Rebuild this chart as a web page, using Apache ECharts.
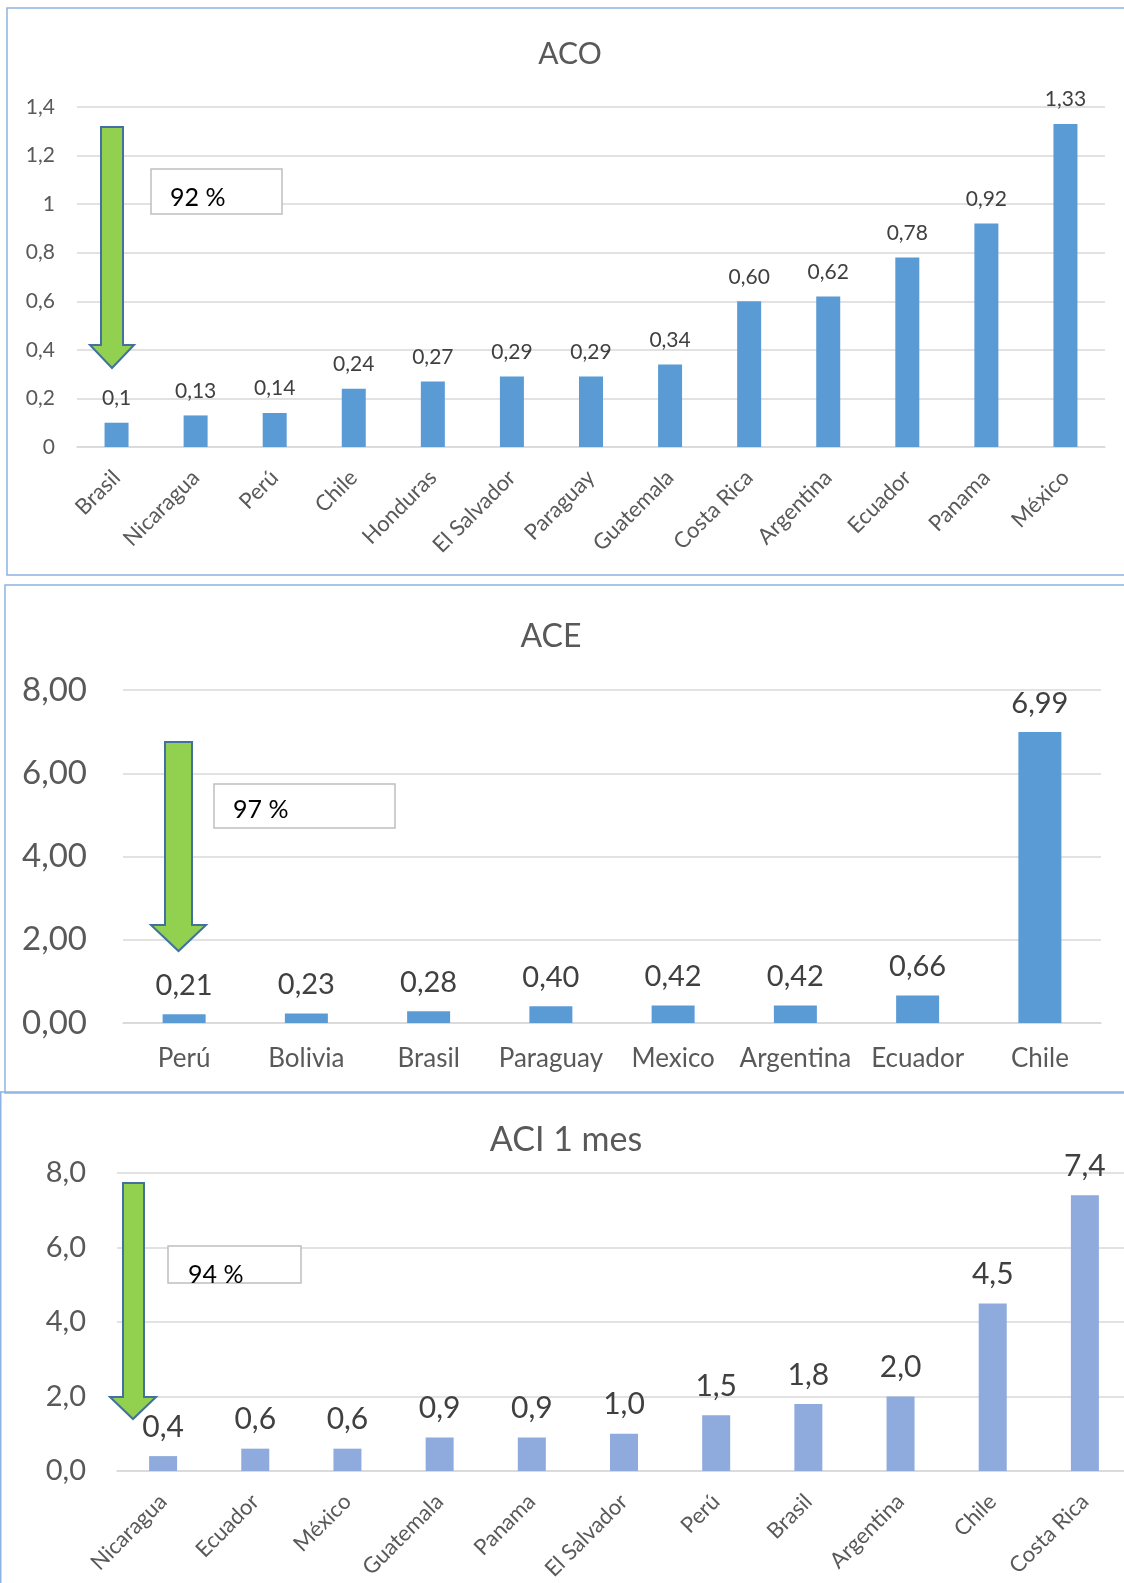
<!DOCTYPE html>
<html>
<head>
<meta charset="utf-8">
<script src="https://cdn.jsdelivr.net/npm/echarts@6/dist/echarts.min.js"></script>
<style>
  html, body { margin: 0; padding: 0; background: #ffffff; overflow: hidden; }
  #chart { width: 1140px; height: 1583px; }
</style>
</head>
<body>
<div id="chart"></div>
<script>
// ACO
const acoCountries = ['Brasil', 'Nicaragua', 'Perú', 'Chile', 'Honduras', 'El Salvador', 'Paraguay', 'Guatemala', 'Costa Rica', 'Argentina', 'Ecuador', 'Panama', 'México'];
const acoText = ['0,1', '0,13', '0,14', '0,24', '0,27', '0,29', '0,29', '0,34', '0,60', '0,62', '0,78', '0,92', '1,33'];

// ACE
const aceCountries = ['Perú', 'Bolivia', 'Brasil', 'Paraguay', 'Mexico', 'Argentina', 'Ecuador', 'Chile'];
const aceText = ['0,21', '0,23', '0,28', '0,40', '0,42', '0,42', '0,66', '6,99'];

// ACI 1 mes
const aciCountries = ['Nicaragua', 'Ecuador', 'México', 'Guatemala', 'Panama', 'El Salvador', 'Perú', 'Brasil', 'Argentina', 'Chile', 'Costa Rica'];
const aciText = ['0,4', '0,6', '0,6', '0,9', '0,9', '1,0', '1,5', '1,8', '2,0', '4,5', '7,4'];

// Reduction percentages shown beside the arrows
const reductions = ['92 %', '97 %', '94 %'];

const toNum = s => parseFloat(s.replace(',', '.'));
const acoValues = acoText.map(toNum);
const aceValues = aceText.map(toNum);
const aciValues = aciText.map(toNum);

const FONT = 'Lato, "Noto Sans", sans-serif';
const GRID_COLOR = '#D9D9D9';
const TEXT_COLOR = '#595959';
const LABEL_COLOR = '#404040';

function xAxis(gridIndex, data, fontSize, rotate, margin) {
  return {
    type: 'category', gridIndex, data,
    axisTick: { show: false },
    axisLine: { show: true, lineStyle: { color: GRID_COLOR, width: 1.5 } },
    axisLabel: { interval: 0, rotate, margin, color: TEXT_COLOR, fontSize, fontFamily: FONT }
  };
}
function yAxis(gridIndex, max, interval, fontSize, margin, fmt) {
  return {
    type: 'value', gridIndex, min: 0, max, interval,
    axisLine: { show: false }, axisTick: { show: false },
    splitLine: { lineStyle: { color: GRID_COLOR, width: 1.5 } },
    axisLabel: { margin, color: TEXT_COLOR, fontSize, fontFamily: FONT, formatter: fmt }
  };
}
function barSeries(idx, values, texts, color, barWidth, fontSize, distance) {
  return {
    type: 'bar', xAxisIndex: idx, yAxisIndex: idx, data: values,
    barWidth, itemStyle: { color },
    label: {
      show: true, position: 'top', distance, color: LABEL_COLOR, fontSize, fontFamily: FONT,
      formatter: p => texts[p.dataIndex]
    }
  };
}

// Down arrow (annotation) drawn as a polygon: shaft x0..x1 from yTop, head from hx0..hx1 starting at yHead, tip at yTip
function arrow(x0, x1, yTop, hx0, hx1, yHead, yTip) {
  const cx = (hx0 + hx1) / 2;
  return {
    type: 'polygon', z: 100,
    shape: { points: [[x0, yTop], [x1, yTop], [x1, yHead], [hx1, yHead], [cx, yTip], [hx0, yHead], [x0, yHead]] },
    style: { fill: '#92D050', stroke: '#41719C', lineWidth: 2 }
  };
}
function noteBox(x, y, w, h, text, tx, ty, fontSize) {
  return [
    { type: 'rect', z: 100, shape: { x, y, width: w, height: h }, style: { fill: '#ffffff', stroke: '#BFBFBF', lineWidth: 1.5 } },
    { type: 'text', z: 101, x: tx, y: ty, style: { text, fill: '#000000', fontSize, fontFamily: FONT, textVerticalAlign: 'middle' } }
  ];
}
function frame(x, y, w, h) {
  return { type: 'rect', z: 0, shape: { x, y, width: w, height: h }, style: { fill: 'none', stroke: '#8DB4E2', lineWidth: 1.5 } };
}

const chart = echarts.init(document.getElementById('chart'), null, { renderer: 'canvas' });
chart.setOption({
  animation: false,
  backgroundColor: '#ffffff',
  title: [
    { text: 'ACO', left: 565, top: 34, textAlign: 'center', textStyle: { color: TEXT_COLOR, fontSize: 30, fontWeight: 'normal', fontFamily: FONT } },
    { text: 'ACE', left: 546, top: 616, textAlign: 'center', textStyle: { color: TEXT_COLOR, fontSize: 32, fontWeight: 'normal', fontFamily: FONT } },
    { text: 'ACI 1 mes', left: 561, top: 1118, textAlign: 'center', textStyle: { color: TEXT_COLOR, fontSize: 34, fontWeight: 'normal', fontFamily: FONT } }
  ],
  grid: [
    { left: 77, top: 107, width: 1028, height: 340 },
    { left: 123, top: 690, width: 978, height: 333 },
    { left: 117, top: 1173, width: 1014, height: 299 }
  ],
  xAxis: [
    xAxis(0, acoCountries, 22, 45, 27),
    xAxis(1, aceCountries, 26, 0, 23),
    xAxis(2, aciCountries, 22, 45, 27)
  ],
  yAxis: [
    yAxis(0, 1.4, 0.2, 21, 22, v => String(Number(v.toFixed(1))).replace('.', ',')),
    yAxis(1, 8, 2, 33, 36, v => v.toFixed(2).replace('.', ',')),
    yAxis(2, 8, 2, 29, 31, v => v.toFixed(1).replace('.', ','))
  ],
  series: [
    barSeries(0, acoValues, acoText, '#5B9BD5', 24, 21, 14),
    barSeries(1, aceValues, aceText, '#5B9BD5', 43, 29, 14),
    barSeries(2, aciValues, aciText, '#8FAADC', 28, 30, 14)
  ],
  graphic: [
    frame(7, 8, 1140, 567),
    frame(5, 585, 1140, 508),
    frame(0.75, 1092, 1140, 600),
    arrow(101, 123, 127, 90, 134, 345, 368),
    arrow(165, 192, 742, 151, 206, 925, 951),
    arrow(123, 144, 1183, 110, 156, 1397, 1419),
    ...noteBox(151, 169, 131, 45, reductions[0], 170, 198, 25),
    ...noteBox(214, 784, 181, 44, reductions[1], 233, 810, 25),
    ...noteBox(168, 1246, 133, 37, reductions[2], 188, 1275, 25)
  ]
});
</script>
</body>
</html>
